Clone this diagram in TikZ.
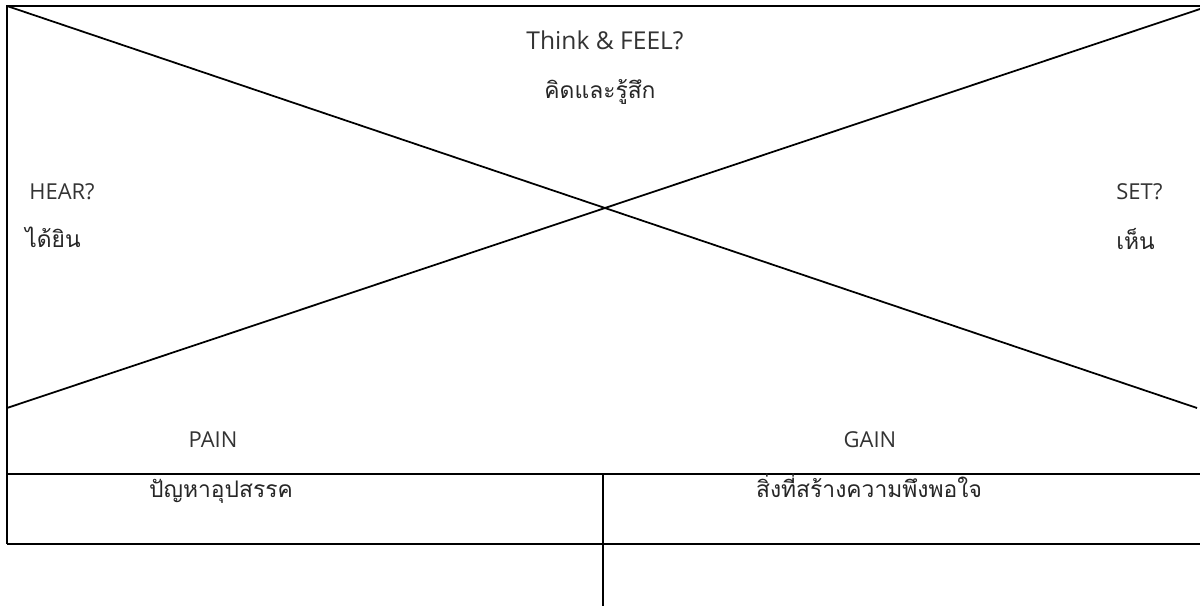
\documentclass[tikz,border=0pt]{standalone}
\usepackage{fontspec}
\setmainfont{Open Sans}
\newfontfamily\thaifont[Script=Thai]{Loma}
\begin{document}
\begin{tikzpicture}[x=0.02cm,y=-0.02cm,
    boxline/.style={line width=1pt},
    txt/.style={font=\fontsize{12.5}{15}\selectfont, text=black!80, inner sep=0pt},
    bigtxt/.style={txt, font=\fontsize{14}{17}\selectfont},
    thaitxt/.style={font=\thaifont\fontsize{13}{15}\selectfont, text=black!85, inner sep=0pt}]
  \useasboundingbox (0,0) rectangle (1200,608);
  % frame and cross
  \coordinate (tl) at (7,6);
  \coordinate (tr) at (1200,6);
  \coordinate (ml) at (7,408);
  \coordinate (dr) at (1197,408);
  \coordinate (ur) at (1200,9);
  \coordinate (pl) at (7,474);
  \coordinate (pr) at (1200,474);
  \coordinate (bl) at (7,544);
  \coordinate (br) at (1200,544);
  \coordinate (mt) at (603,474);
  \coordinate (mb) at (603,606);
  \draw[boxline] (tr) -- (tl) -- (bl);
  \draw[boxline] (tl) -- (dr);
  \draw[boxline] (ml) -- (ur);
  \draw[boxline] (pl) -- (pr);
  \draw[boxline] (bl) -- (br);
  \draw[boxline] (mt) -- (mb);
  % labels
  \node[bigtxt, anchor=base] (think) at (605,50) {Think \& FEEL?};
  \node[thaitxt, anchor=base] (kit) at (600,99) {คิดและรู้สึก};
  \node[txt, anchor=base west] (hear) at (29,199) {HEAR?};
  \node[thaitxt, anchor=base west] (daiyin) at (25,247) {ได้ยิน};
  \node[txt, anchor=base west] (set) at (1116,199) {SET?};
  \node[thaitxt, anchor=base west] (hen) at (1116,249) {เห็น};
  \node[txt, anchor=base] (pain) at (213,447) {PAIN};
  \node[thaitxt, anchor=base] (panha) at (221,497) {ปัญหาอุปสรรค};
  \node[txt, anchor=base] (gain) at (870,447) {GAIN};
  \node[thaitxt, anchor=base] (singthi) at (869,497) {สิ่งที่สร้างความพึงพอใจ};
\end{tikzpicture}
\end{document}
